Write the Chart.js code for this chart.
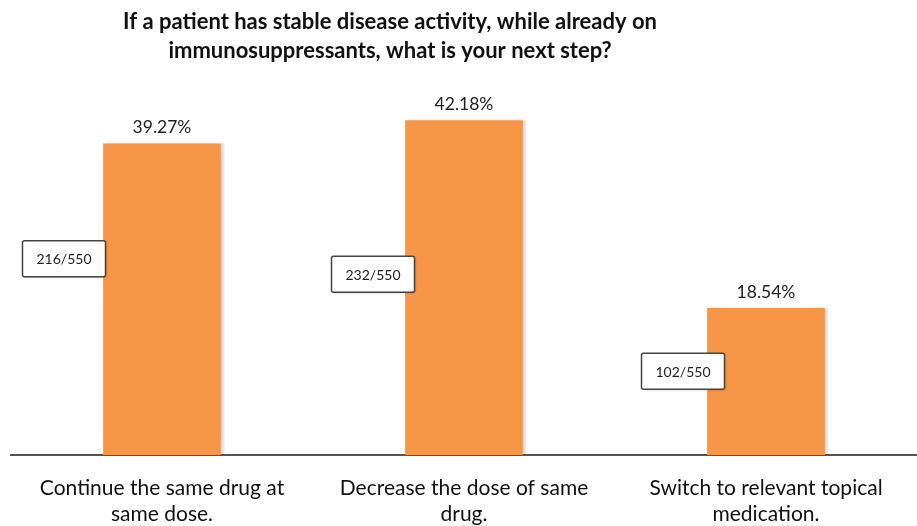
<!DOCTYPE html>
<html>
<head>
<meta charset="utf-8">
<script src="https://cdn.jsdelivr.net/npm/chart.js@4/dist/chart.umd.min.js"></script>
<style>
  html, body { margin: 0; padding: 0; background: #fff; }
  #wrap { width: 917px; height: 526px; }
</style>
</head>
<body>
<div id="wrap"><canvas id="chart"></canvas></div>
<script>
  // data
  const categories = [
    ["Continue the same drug at", "same dose."],
    ["Decrease the dose of same", "drug."],
    ["Switch to relevant topical", "medication."]
  ];
  const percentages = [39.27, 42.18, 18.54];
  const counts = [216, 232, 102];
  const totalAnswers = 550;
  const titleLines = [
    "If a patient has stable disease activity, while already on",
    "immunosuppressants, what is your next step?"
  ];

  const FONT = "Lato, 'Open Sans', sans-serif";

  // title drawn left of centre like the original
  const titlePlugin = {
    id: "sideTitle",
    afterDraw(chart, args, opts) {
      const ctx = chart.ctx;
      ctx.save();
      ctx.font = "bold 22px " + FONT;
      ctx.fillStyle = "#111";
      ctx.textAlign = "center";
      ctx.textBaseline = "middle";
      opts.lines.forEach((t, i) => ctx.fillText(t, opts.x, opts.y + i * opts.lineGap));
      ctx.restore();
    }
  };

  // little shadow on the bars
  const barShadow = {
    id: "barShadow",
    beforeDatasetDraw(chart) {
      const ctx = chart.ctx;
      ctx.save();
      ctx.shadowColor = "rgba(0,0,0,0.13)";
      ctx.shadowOffsetX = 3;
      ctx.shadowOffsetY = 0;
      ctx.shadowBlur = 2;
    },
    afterDatasetDraw(chart) {
      chart.ctx.restore();
    }
  };

  // percentage above bars + boxed count labels
  const valueLabels = {
    id: "valueLabels",
    afterDatasetsDraw(chart, args, opts) {
      const ctx = chart.ctx;
      const meta = chart.getDatasetMeta(0);
      ctx.save();
      meta.data.forEach((bar, i) => {
        ctx.font = "17.5px " + FONT;
        ctx.fillStyle = "#222";
        ctx.textAlign = "center";
        ctx.textBaseline = "middle";
        ctx.fillText(percentages[i].toFixed(2) + "%", bar.x, bar.y - 16);

        const h = bar.base - bar.y;
        const cx = bar.x + opts.boxDx[i];
        const cy = bar.base - h * opts.boxRise[i];
        const w = 83, bh = 36;
        ctx.shadowColor = "rgba(0,0,0,0.2)";
        ctx.shadowBlur = 2;
        ctx.shadowOffsetX = 1;
        ctx.shadowOffsetY = 1;
        ctx.fillStyle = "#fff";
        ctx.beginPath();
        ctx.roundRect(cx - w / 2, cy - bh / 2, w, bh, 2);
        ctx.fill();
        ctx.shadowColor = "transparent";
        ctx.strokeStyle = "#444";
        ctx.lineWidth = 1.5;
        ctx.stroke();
        ctx.font = "14px " + FONT;
        ctx.fillStyle = "#222";
        ctx.fillText(counts[i] + "/" + totalAnswers, cx, cy + 1);
      });
      ctx.restore();
    }
  };

  new Chart(document.getElementById("chart"), {
    type: "bar",
    data: {
      labels: categories,
      datasets: [{
        data: percentages,
        backgroundColor: "#F79646",
        borderWidth: 0,
        barPercentage: 0.39,
        categoryPercentage: 1
      }]
    },
    options: {
      responsive: true,
      maintainAspectRatio: false,
      animation: false,
      layout: { padding: { top: 98, left: 11, right: 0, bottom: 0 } },
      scales: {
        x: {
          grid: { display: false, drawTicks: false },
          border: { display: true, color: "#555", width: 2 },
          ticks: {
            color: "#111",
            font: { family: FONT, size: 21, lineHeight: 1.2 },
            padding: 21,
            maxRotation: 0,
            minRotation: 0,
            autoSkip: false
          },
          afterFit(scale) { scale.height = 71; }
        },
        y: { display: false, min: 0, max: 45 }
      },
      plugins: {
        legend: { display: false },
        tooltip: { enabled: false },
        sideTitle: { lines: titleLines, x: 390, y: 22, lineGap: 29 },
        valueLabels: { boxDx: [-98, -91, -83], boxRise: [0.63, 0.54, 0.57] }
      }
    },
    plugins: [titlePlugin, barShadow, valueLabels]
  });
</script>
</body>
</html>
